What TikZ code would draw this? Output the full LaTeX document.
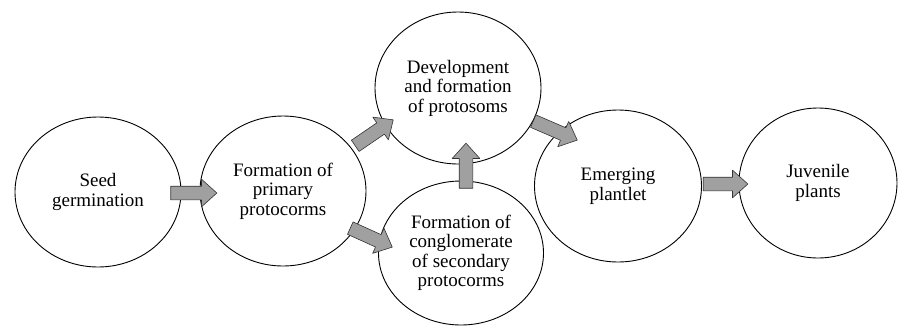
\documentclass[tikz,border=0pt]{standalone}
\usepackage{fontspec}
\setmainfont{Liberation Serif}
\newfontfamily\stagefont{Liberation Serif}
\usetikzlibrary{shapes.geometric,shapes.arrows,calc}

\definecolor{arrowgray}{RGB}{160,160,160}

% block arrow from tail point to tip point
\newcommand{\blockarrow}[2]{%
  \path let \p1=#1, \p2=#2, \n1={atan2(\y2-\y1,\x2-\x1)}, \n2={veclen(\x2-\x1,\y2-\y1)} in
    node[arrowbox, rotate=\n1, minimum height=\n2, anchor=tail] at (\p1) {};}

\begin{document}
\begin{tikzpicture}[x=1pt, y=-1pt, line join=bevel,
    stage/.style={ellipse, draw, line width=0.9pt, fill=white, inner sep=0pt,
      minimum width=166pt, minimum height=150pt, align=center,
      font=\stagefont\fontsize{19}{19.5}\selectfont},
    arrowbox/.style={single arrow, draw=black!80, line width=0.6pt, fill=arrowgray,
      inner xsep=0pt, inner ysep=6.5pt, minimum width=27pt,
      single arrow head extend=7pt, single arrow tip angle=84}]

\useasboundingbox (0,0) rectangle (898,325);

\node[stage] (s) at (98,192) {Seed\\germination};
\node[stage] (p) at (283,191) {Formation of\\primary\\protocorms};
\node[stage, minimum height=152pt] (d) at (458,88) {Development\\and formation\\of protosoms};
\node[stage, minimum height=144pt, minimum width=165pt] (c) at (461,253) {Formation of\\conglomerate\\of secondary\\protocorms};
\node[stage, minimum width=167pt, minimum height=152pt] (e) at (618,186) {Emerging\\plantlet};
\node[stage, minimum width=158pt] (j) at (818,183) {Juvenile\\plants};

\blockarrow{($(s.east)+(-11,1)$)}{($(p.west)+(17,2)$)}
\blockarrow{($(p)+(72,-45)$)}{($(d)+(-65,32)$)}
\blockarrow{($(p)+(67,37)$)}{($(c)+(-69,-6)$)}
\blockarrow{($(c.north)+(5,8)$)}{($(d.south)+(8,-21)$)}
\blockarrow{($(d)+(75,33)$)}{($(e)+(-41,-46)$)}
\blockarrow{($(e.east)+(1,-2)$)}{($(j.west)+(9,1)$)}

\end{tikzpicture}
\end{document}
